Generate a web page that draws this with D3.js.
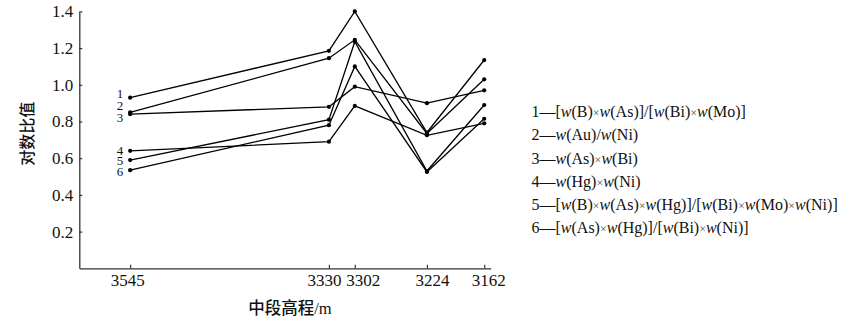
<!DOCTYPE html>
<html>
<head>
<meta charset="utf-8">
<script src="https://cdn.jsdelivr.net/npm/d3@7/dist/d3.min.js"></script>
<style>
  body { margin: 0; background: #fff; }
  svg { display: block; }
  .axis text { font-family: "Liberation Serif", "Times New Roman", serif; }
</style>
</head>
<body>
<svg id="chart" width="867" height="333"></svg>
<script>
// Middle-section elevations (m), ordered from deep to shallow along the x axis
const elevations = [3545, 3330, 3302, 3224, 3162];

// Log ratio values for each indicator, one value per elevation
const ratio1 = [0.93, 1.185, 1.40, 0.74, 1.135];
const ratio2 = [0.85, 1.145, 1.245, 0.735, 1.03];
const ratio3 = [0.84, 0.88, 0.99, 0.90, 0.97];
const ratio4 = [0.64, 0.69, 0.885, 0.725, 0.79];
const ratio5 = [0.59, 0.81, 1.235, 0.53, 0.89];
const ratio6 = [0.535, 0.78, 1.10, 0.525, 0.815];

const seriesIds = ["1", "2", "3", "4", "5", "6"];
const seriesValues = [ratio1, ratio2, ratio3, ratio4, ratio5, ratio6];

const legendLabels = [
  "[w(B)×w(As)]/[w(Bi)×w(Mo)]",
  "w(Au)/w(Ni)",
  "w(As)×w(Bi)",
  "w(Hg)×w(Ni)",
  "[w(B)×w(As)×w(Hg)]/[w(Bi)×w(Mo)×w(Ni)]",
  "[w(As)×w(Hg)]/[w(Bi)×w(Ni)]"
];

const yTickValues = [0.2, 0.4, 0.6, 0.8, 1.0, 1.2, 1.4];
const yTitle = "对数比值";
const xTitle = "中段高程/m";

const SERIF = '"Liberation Serif", "Times New Roman", serif';
const MIXED = '"Liberation Serif", "Noto Sans CJK SC", serif';
const CJK = '"Noto Sans CJK SC", sans-serif';

const svg = d3.select("#chart");

const x = d3.scaleLinear().domain([3600, 3155]).range([79.3, 490.7]);
const y = d3.scaleLinear().domain([0, 1.4]).range([268.3, 11.4]);

// Axes with inward ticks
const yAxis = d3.axisLeft(y).tickValues(yTickValues).tickFormat(d3.format(".1f"))
  .tickSizeInner(-3).tickSizeOuter(0).tickPadding(6);
const xAxis = d3.axisBottom(x).tickValues(elevations).tickFormat(d3.format("d"))
  .tickSizeInner(-3.5).tickSizeOuter(0).tickPadding(5);

const gy = svg.append("g").attr("class", "axis").attr("transform", `translate(${x.range()[0]},0)`).call(yAxis);
const gx = svg.append("g").attr("class", "axis").attr("transform", `translate(0,${y(0)})`).call(xAxis);

[gx, gy].forEach(g => {
  g.attr("font-family", SERIF).attr("font-size", 17);
  g.select(".domain").attr("stroke", "#333").attr("stroke-width", 1.3);
  g.selectAll(".tick line").attr("stroke", "#333").attr("stroke-width", 1.2);
  g.selectAll(".tick text")
    .style("font-family", SERIF)
    .attr("font-size", 17)
    .attr("fill", "#111");
});
// The two close elevations get their labels pushed apart so they stay legible
const xLabelNudge = [-3, -5, 8, 5, 4];
gx.selectAll(".tick text")
  .attr("dy", "0.76em")
  .attr("dx", (d, i) => xLabelNudge[i]);

// Axis titles
svg.append("text")
  .style("font-family", CJK)
  .attr("transform", `translate(33,${(y(0) + y(1.4)) / 2 - 6}) rotate(-90)`)
  .attr("text-anchor", "middle")
  .attr("font-size", 16)
  .attr("font-weight", 500)
  .attr("fill", "#111")
  .text(yTitle);

svg.append("text")
  .style("font-family", MIXED)
  .attr("x", 290)
  .attr("y", 314)
  .attr("text-anchor", "middle")
  .attr("font-size", 16.5)
  .attr("font-weight", 500)
  .attr("fill", "#111")
  .text(xTitle);

// Lines and points
const line = d3.line()
  .x((d, i) => x(elevations[i]))
  .y(d => y(d));

const series = svg.append("g").selectAll("g")
  .data(seriesValues)
  .join("g");

series.append("path")
  .attr("d", d => line(d))
  .attr("fill", "none")
  .attr("stroke", "#000")
  .attr("stroke-width", 1.3);

series.selectAll("circle")
  .data(d => d)
  .join("circle")
  .attr("cx", (d, i) => x(elevations[i]))
  .attr("cy", d => y(d))
  .attr("r", 2.1)
  .attr("fill", "#000");

// Series numbers beside the first points, spread apart so they do not collide
const labelShift = [-3.5, -6.5, 3.5, -0.5, 1, 1.5];
svg.append("g").selectAll("text")
  .data(seriesIds)
  .join("text")
  .style("font-family", SERIF)
  .attr("x", x(elevations[0]) - 7)
  .attr("y", (d, i) => y(seriesValues[i][0]) + labelShift[i])
  .attr("dy", "0.33em")
  .attr("text-anchor", "end")
  .attr("font-size", 13)
  .attr("fill", "#111")
  .text(d => d);

// Legend: number, dash, formula with italic mass-fraction symbol w
const legend = svg.append("g")
  .style("font-family", SERIF)
  .attr("font-size", 16)
  .attr("fill", "#111");
legendLabels.forEach((label, i) => {
  const t = legend.append("text")
    .attr("x", 531.5)
    .attr("y", 111.7 + i * 23.1)
    .attr("dy", "0.35em");
  t.append("tspan").text(seriesIds[i] + "—");
  label.split(/(w(?=\()|×)/).filter(s => s.length).forEach(part => {
    const ts = t.append("tspan").text(part);
    if (part === "w") ts.attr("font-style", "italic");
    if (part === "×") ts.attr("font-size", 12).attr("fill", "#555");
  });
});
</script>
</body>
</html>
